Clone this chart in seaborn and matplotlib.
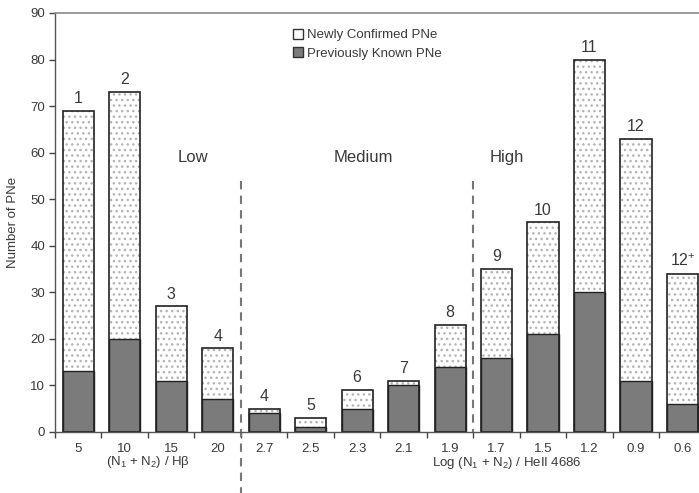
import matplotlib
matplotlib.use("Agg")
import matplotlib.pyplot as plt
from matplotlib.patches import Patch
import seaborn as sns
import pandas as pd

ratio_labels = ["5", "10", "15", "20", "2.7", "2.5", "2.3", "2.1", "1.9",
                "1.7", "1.5", "1.2", "0.9", "0.6"]
class_labels = ["1", "2", "3", "4", "4", "5", "6", "7", "8",
                "9", "10", "11", "12", "12$^{+}$"]
total_pne = [69, 73, 27, 18, 5, 3, 9, 11, 23, 35, 45, 80, 63, 34]
previously_known = [13, 20, 11, 7, 4, 1, 5, 10, 14, 16, 21, 30, 11, 6]
newly_confirmed = [t - p for t, p in zip(total_pne, previously_known)]
group_names = ["Low", "Medium", "High"]

df = pd.DataFrame({"ratio": ratio_labels, "total": total_pne,
                   "known": previously_known, "new": newly_confirmed})

sns.set_theme(style="white")
plt.rcParams["font.family"] = ["Liberation Sans", "DejaVu Sans"]
plt.rcParams["mathtext.default"] = "regular"
plt.rcParams["hatch.linewidth"] = 1.0

txt = "#3a3a3a"
axc = "#8a8a8a"
dark = "#7b7b7b"

fig = plt.figure(figsize=(6.99, 4.93), dpi=100)
ax = fig.add_axes([55 / 699, 1 - 432 / 493, 1 - 55 / 699, (432 - 13) / 493])

bw = 0.67
# stippled total bars (hatch drawn in light grey)
sns.barplot(data=df, x="ratio", y="total", order=ratio_labels, color="white",
            edgecolor="#b4b4b4", linewidth=0, hatch="...", width=bw, ax=ax,
            saturation=1)
# previously known bars
sns.barplot(data=df, x="ratio", y="known", order=ratio_labels, color=dark,
            edgecolor="#222222", linewidth=1.0, width=bw, ax=ax, saturation=1)
# outline of total bars
sns.barplot(data=df, x="ratio", y="total", order=ratio_labels, fill=False,
            edgecolor="#222222", linewidth=1.2, width=bw, ax=ax)

ax.set_xlim(-0.5, 13.355)
ax.set_ylim(0, 90)
ax.set_yticks(range(0, 91, 10))
ax.set_xticks([i + 0.5 for i in range(-1, 13)], [""] * 14)
ax.set_xticks(range(14), ratio_labels, minor=True)
ax.tick_params(axis="x", which="major", length=4, width=1, color="#444444",
               direction="out", bottom=True)
ax.tick_params(axis="x", which="minor", length=0, pad=8, labelsize=9.5,
               labelcolor=txt, bottom=True)
ax.tick_params(axis="y", length=4, width=1, color="#444444", direction="out",
               left=True, labelsize=9.5, labelcolor=txt, pad=3)
ax.set_xlabel("")
ax.set_ylabel("Number of PNe", fontsize=9.5, color=txt, labelpad=8)

for s in ["left", "bottom"]:
    ax.spines[s].set_color("#555555")
    ax.spines[s].set_linewidth(1.0)
ax.spines["top"].set_color(axc)
ax.spines["top"].set_linewidth(1.2)
ax.spines["right"].set_visible(False)

for i, (lab, tot) in enumerate(zip(class_labels, total_pne)):
    ax.text(i, tot + 1.0, lab, ha="center", va="bottom", fontsize=11.5,
            color=txt)

for name, xp in zip(group_names, [2.47, 6.13, 9.23]):
    ax.text(xp, 59, name, ha="center", va="center", fontsize=12, color=txt)

ax.plot([3.5, 3.5], [54, -13.2], ls=(0, (4, 3)), color="#777777", lw=1.5,
        clip_on=False)
ax.plot([8.5, 8.5], [54, 0], ls=(0, (4, 3)), color="#777777", lw=1.5,
        clip_on=False)

ax.text(1.5, -6.4, "(N$_1$ + N$_2$) / Hβ", ha="center", va="center",
        fontsize=9.5, color=txt, clip_on=False)
ax.text(9.23, -6.6, "Log (N$_1$ + N$_2$) / HeII 4686", ha="center",
        va="center", fontsize=9.5, color=txt, clip_on=False)

handles = [Patch(facecolor="white", edgecolor="#333333",
                 label="Newly Confirmed PNe"),
           Patch(facecolor=dark, edgecolor="#333333",
                 label="Previously Known PNe")]
leg = ax.legend(handles=handles, loc="upper left",
                bbox_to_anchor=(0.355, 0.985), frameon=False, fontsize=9.5,
                handlelength=0.8, handleheight=0.8, handletextpad=0.3,
                labelspacing=0.45, borderpad=0.2)
for t in leg.get_texts():
    t.set_color(txt)

fig.savefig("out.png", dpi=100)
